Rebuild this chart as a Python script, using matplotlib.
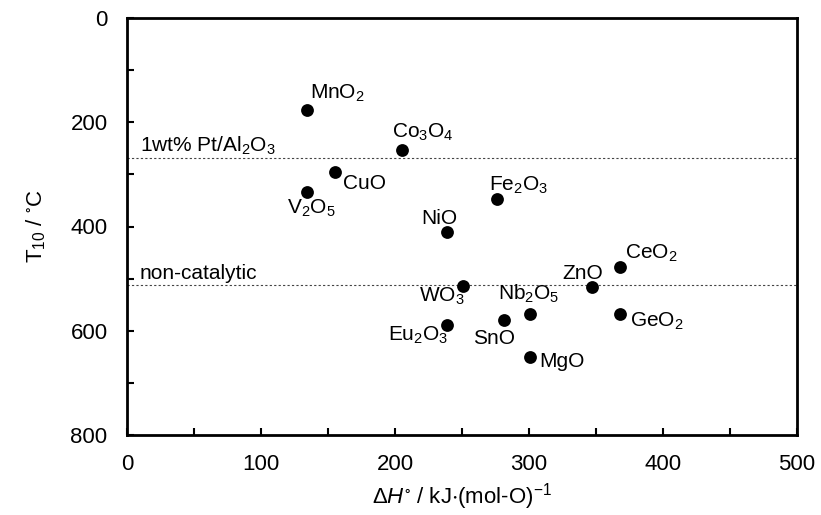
import matplotlib
matplotlib.use("Agg")
import matplotlib.pyplot as plt
from matplotlib.ticker import MultipleLocator

plt.rcParams['font.family'] = ['Liberation Sans', 'DejaVu Sans']
plt.rcParams['mathtext.fontset'] = 'custom'
plt.rcParams['mathtext.rm'] = 'Liberation Sans'
plt.rcParams['mathtext.it'] = 'Liberation Sans:italic'
plt.rcParams['mathtext.default'] = 'regular'

# ---- data ----
oxides = ['MnO$_2$', 'Co$_3$O$_4$', 'CuO', 'V$_2$O$_5$', 'Fe$_2$O$_3$', 'NiO',
          'CeO$_2$', 'ZnO', 'WO$_3$', 'Nb$_2$O$_5$', 'GeO$_2$', 'SnO',
          'Eu$_2$O$_3$', 'MgO']
dH = [134, 205, 155, 134, 276, 239, 368, 347, 251, 301, 368, 281, 239, 301]
T10 = [176, 253, 296, 334, 347, 411, 477, 517, 514, 568, 568, 579, 589, 650]

ref_labels = ['1wt% Pt/Al$_2$O$_3$', 'non-catalytic']
ref_T10 = [268, 512]

# label placement (offset pixels, horizontal alignment)
label_style = {
    'MnO$_2$': (3, 11, 'left'),
    'Co$_3$O$_4$': (-10, 12, 'left'),
    'CuO': (8, -16.5, 'left'),
    'V$_2$O$_5$': (5, -21.5, 'center'),
    'Fe$_2$O$_3$': (-8, 8.5, 'left'),
    'NiO': (-8, 8.5, 'center'),
    'CeO$_2$': (5, 7.5, 'left'),
    'ZnO': (-9, 8.5, 'center'),
    'WO$_3$': (1, -15.5, 'right'),
    'Nb$_2$O$_5$': (-2, 14, 'center'),
    'GeO$_2$': (10, -12.5, 'left'),
    'SnO': (-9, -24, 'center'),
    'Eu$_2$O$_3$': (1, -15.5, 'right'),
    'MgO': (9, -10, 'left'),
}

fig = plt.figure(figsize=(8.21, 5.15), dpi=100)
ax = fig.add_axes([127/821, 1-435/515, 670/821, 417/515])

fs_lab = 15
fs_tick = 16
for t, lab in zip(ref_T10, ref_labels):
    ax.plot([0, 500], [t, t], linestyle=(0, (2, 2)), color='#444444', linewidth=0.8, zorder=1)
    ax.annotate(lab, xy=(0, t), xytext=(13, 6), textcoords='offset pixels',
                ha='left', va='baseline', fontsize=fs_lab)

ax.scatter(dH, T10, s=85, color='black', zorder=3, linewidths=0)

for name, x, y in zip(oxides, dH, T10):
    dx, dy, ha = label_style[name]
    ax.annotate(name, xy=(x, y), xytext=(dx, dy), textcoords='offset pixels',
                ha=ha, va='baseline', fontsize=fs_lab, zorder=4)

ax.set_xlim(0, 500)
ax.set_ylim(800, 0)
ax.xaxis.set_major_locator(MultipleLocator(100))
ax.xaxis.set_minor_locator(MultipleLocator(50))
ax.yaxis.set_major_locator(MultipleLocator(200))
ax.yaxis.set_minor_locator(MultipleLocator(100))
ax.tick_params(which='both', direction='in', length=5, width=1.5, labelsize=fs_tick)
ax.tick_params(axis='x', which='major', pad=14)
ax.tick_params(axis='y', which='major', pad=14)
for s in ax.spines.values():
    s.set_linewidth(2)

ax.set_xlabel(r'$\Delta\mathit{H}^{\circ}$ / kJ$\cdot$(mol-O)$^{-1}$', fontsize=fs_tick, labelpad=4)
ax.set_ylabel('T$_{10}$ / $^{\circ}$C', fontsize=fs_tick, labelpad=16)

fig.savefig('out.png', dpi=100)
